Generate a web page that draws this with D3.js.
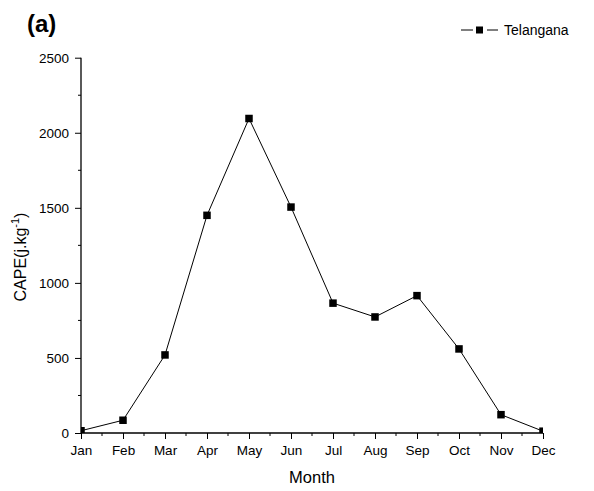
<!DOCTYPE html>
<html>
<head>
<meta charset="utf-8">
<script src="https://cdn.jsdelivr.net/npm/d3@7"></script>
<style>
  html, body { margin: 0; padding: 0; background: #fff; }
  svg { display: block; font-family: "Liberation Sans", Arial, sans-serif; }
</style>
</head>
<body>
<svg id="chart" width="594" height="491"></svg>
<script>
// Monthly mean CAPE over Telangana
const months = ["Jan", "Feb", "Mar", "Apr", "May", "Jun", "Jul", "Aug", "Sep", "Oct", "Nov", "Dec"];
const capeValues = [15, 85, 520, 1450, 2095, 1505, 865, 773, 915, 560, 122, 12];
const yTicks = [0, 500, 1000, 1500, 2000, 2500];
const seriesName = "Telangana";

const svg = d3.select("#chart");
const plotLeft = 81, plotRight = 543, plotTop = 57.7, plotBottom = 433;

const x = d3.scalePoint().domain(months).range([plotLeft, plotRight]);
const y = d3.scaleLinear().domain([0, 2500]).range([plotBottom, plotTop]);

// clip marks to the plotting region
svg.append("defs").append("clipPath").attr("id", "plotClip")
  .append("rect").attr("x", plotLeft).attr("y", plotTop - 10)
  .attr("width", plotRight - plotLeft).attr("height", plotBottom - plotTop + 10);

// y axis with minor ticks
const yAxis = svg.append("g").attr("transform", `translate(${plotLeft},0)`)
  .call(d3.axisLeft(y).tickValues(yTicks).tickFormat(d3.format("d")).tickSize(6).tickPadding(6));
yAxis.select(".domain").attr("d", `M0,${plotTop}V${plotBottom}`)
  .attr("stroke", "#000").attr("stroke-width", 1.3);
yAxis.selectAll("text").style("font-size", "13.5px").attr("fill", "#000");
yAxis.selectAll("line").attr("stroke", "#000");
const yMinor = d3.range(250, 2500, 500);
yAxis.selectAll(".minor").data(yMinor).enter().append("line")
  .attr("class", "minor").attr("x1", 0).attr("x2", -3)
  .attr("y1", d => y(d)).attr("y2", d => y(d)).attr("stroke", "#000");

// x axis with minor ticks at half months
const xAxis = svg.append("g").attr("transform", `translate(0,${plotBottom})`)
  .call(d3.axisBottom(x).tickSize(6).tickPadding(6));
xAxis.select(".domain").attr("d", `M${plotLeft},0H${plotRight}`)
  .attr("stroke", "#000").attr("stroke-width", 1.3);
xAxis.selectAll("text").style("font-size", "13.5px").attr("fill", "#000");
xAxis.selectAll("line").attr("stroke", "#000");
const step = x.step();
const xMinor = months.slice(0, -1).map(m => x(m) + step / 2);
xAxis.selectAll(".minor").data(xMinor).enter().append("line")
  .attr("class", "minor").attr("y1", 0).attr("y2", 3)
  .attr("x1", d => d).attr("x2", d => d).attr("stroke", "#000");

// series line and square markers
const plot = svg.append("g").attr("clip-path", "url(#plotClip)");
const pts = months.map((m, i) => ({ m, v: capeValues[i] }));
plot.append("path").datum(pts)
  .attr("fill", "none").attr("stroke", "#000").attr("stroke-width", 1)
  .attr("d", d3.line().x(d => x(d.m)).y(d => y(d.v)));
const ms = 7.5;
plot.selectAll(".pt").data(pts).enter().append("rect")
  .attr("class", "pt")
  .attr("x", d => x(d.m) - ms / 2).attr("y", d => y(d.v) - ms / 2)
  .attr("width", ms).attr("height", ms).attr("fill", "#000");

// axis titles
svg.append("text").attr("x", 312).attr("y", 483)
  .attr("text-anchor", "middle").style("font-size", "16.5px").text("Month");
const yt = svg.append("text")
  .attr("transform", "translate(25.5,257) rotate(-90)")
  .attr("text-anchor", "middle").style("font-size", "16px");
yt.append("tspan").text("CAPE(j.kg");
yt.append("tspan").attr("dy", -7).style("font-size", "11px").text("-1");
yt.append("tspan").attr("dy", 7).text(")");

// panel label
svg.append("text").attr("x", 27).attr("y", 32)
  .style("font-size", "24px").style("font-weight", "bold").text("(a)");

// legend
const lg = svg.append("g");
lg.append("line").attr("x1", 461).attr("x2", 473).attr("y1", 30).attr("y2", 30).attr("stroke", "#000");
lg.append("line").attr("x1", 487).attr("x2", 498).attr("y1", 30).attr("y2", 30).attr("stroke", "#000");
lg.append("rect").attr("x", 476).attr("y", 26.5).attr("width", 7).attr("height", 7).attr("fill", "#000");
lg.append("text").attr("x", 504).attr("y", 35).style("font-size", "14px").text(seriesName);
</script>
</body>
</html>
